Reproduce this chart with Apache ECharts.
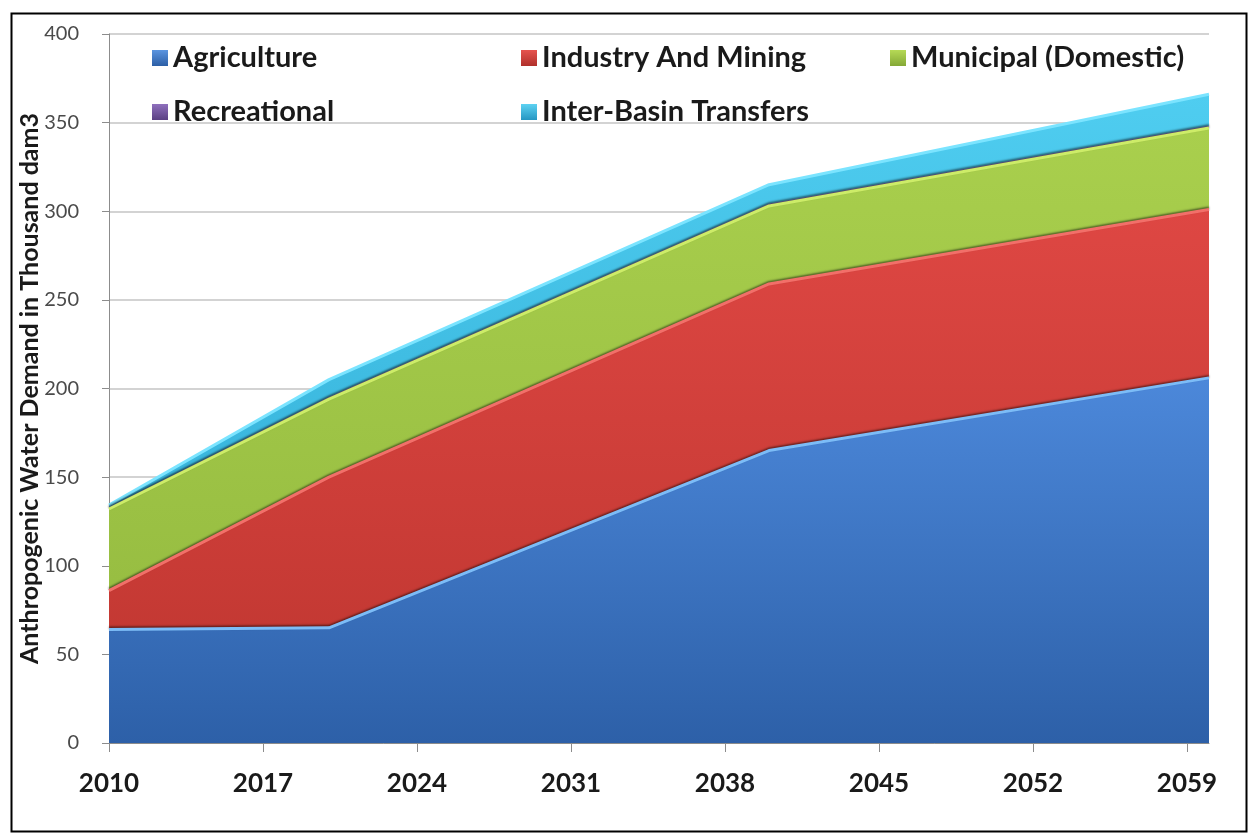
<!DOCTYPE html>
<html>
<head>
<meta charset="utf-8">
<title>Anthropogenic Water Demand</title>
<script src="https://cdn.jsdelivr.net/npm/echarts@6/dist/echarts.min.js"></script>
<style>
  html, body { margin: 0; padding: 0; background: #ffffff; }
  #chart { width: 1253px; height: 838px; }
</style>
</head>
<body>
<div id="chart"></div>
<script>
// Projection years and demand per sector (thousand dam3)
const years = [2010, 2020, 2040, 2060];
const agriculture = [64, 65, 165, 206];
const industryMining = [22, 85, 94, 95];
const municipal = [46, 44, 44, 46];
const recreational = [0.8, 1, 1, 1];
const interBasin = [1.5, 10, 11, 18];

const xTickYears = [2010, 2017, 2024, 2031, 2038, 2045, 2052, 2059];
const seriesNames = ['Agriculture', 'Industry And Mining', 'Municipal (Domestic)', 'Recreational', 'Inter-Basin Transfers'];
const yAxisTitle = 'Anthropogenic Water Demand in Thousand dam3';

const FONT = 'Lato, "Open Sans", sans-serif';

function grad(top, bottom) {
  return new echarts.graphic.LinearGradient(0, 0, 0, 1, [
    { offset: 0, color: top },
    { offset: 1, color: bottom }
  ]);
}

const styles = [
  { area: grad('#4c88da', '#2d60a8'), line: '#7cbcf7', icon: grad('#5b95e0', '#2c5fa6') },
  { area: grad('#de4743', '#bd352f'), line: '#f26f69', icon: grad('#e6534e', '#b0302b') },
  { area: grad('#a9cf4d', '#92b83e'), line: '#cdec68', icon: grad('#b6da56', '#84a836') },
  { area: grad('#7d5fab', '#5f4488'), line: '#9a7cc8', icon: grad('#8f70bd', '#5a4083') },
  { area: grad('#4fcdf0', '#2aa6d0'), line: '#7be4ff', icon: grad('#5dd2f2', '#2596c2') }
];

const values = [agriculture, industryMining, municipal, recreational, interBasin];
const lastIndex = values.length - 1;

// Running totals: each sector's area reaches from the axis up to the sum of
// itself and the sectors below it; lower sectors are painted over higher ones.
const runningTotals = values.map((_, i) =>
  years.map((_, k) => values.slice(0, i + 1).reduce((s, arr) => s + arr[k], 0))
);

const series = seriesNames.map((name, i) => ({
  name: name,
  type: 'line',
  data: years.map((y, k) => [y, runningTotals[i][k]]),
  z: 10 - i,
  symbol: 'none',
  smooth: false,
  itemStyle: { color: styles[i].icon },
  lineStyle: {
    color: styles[i].line,
    width: i === 3 ? 1 : 3,
    // dark edge where a band meets the one above it
    shadowColor: i === lastIndex ? 'rgba(0,0,0,0)' : 'rgba(0,0,0,0.5)',
    shadowBlur: 2,
    shadowOffsetY: -1.5
  },
  areaStyle: { color: styles[i].area, opacity: 1, origin: 'start' },
  emphasis: { disabled: true }
}));

const chart = echarts.init(document.getElementById('chart'), null, { renderer: 'canvas' });
chart.setOption({
  animation: false,
  backgroundColor: '#ffffff',
  grid: { left: 109, right: 44, top: 34, bottom: 95, containLabel: false },
  legend: {
    data: seriesNames,
    left: 147,
    top: 30,
    width: 1100,
    orient: 'horizontal',
    itemWidth: 16,
    itemHeight: 16,
    itemGap: 8,
    icon: 'rect',
    selectedMode: false,
    textStyle: {
      fontFamily: FONT, fontWeight: 'bold', fontSize: 29, color: '#1a1a1a',
      width: 340, lineHeight: 46
    }
  },
  xAxis: {
    type: 'value',
    min: 2010,
    max: 2060,
    axisLine: { show: true, lineStyle: { color: '#8c8c8c', width: 1 } },
    axisTick: { show: true, length: 9, lineStyle: { color: '#8c8c8c' }, customValues: xTickYears },
    axisLabel: {
      customValues: xTickYears,
      margin: 28,
      fontFamily: FONT,
      fontWeight: 'bold',
      fontSize: 26,
      color: '#1a1a1a',
      formatter: v => String(v)
    },
    splitLine: { show: false }
  },
  yAxis: {
    type: 'value',
    min: 0,
    max: 400,
    interval: 50,
    name: yAxisTitle,
    nameLocation: 'middle',
    nameGap: 67,
    nameMoveOverlap: false,
    nameRotate: 90,
    nameTextStyle: { fontFamily: FONT, fontWeight: 'bold', fontSize: 25, color: '#1a1a1a' },
    axisLine: { show: true, lineStyle: { color: '#8c8c8c', width: 1 } },
    axisTick: { show: true, length: 7, lineStyle: { color: '#8c8c8c' } },
    axisLabel: { margin: 30, fontFamily: FONT, fontSize: 20, color: '#4a4a4a' },
    splitLine: { show: true, lineStyle: { color: '#c4c4c4', width: 1.5 } }
  },
  series: series,
  graphic: [{
    type: 'rect',
    left: 9,
    top: 11,
    shape: { x: 0, y: 0, width: 1235, height: 818 },
    style: { fill: 'none', stroke: '#000000', lineWidth: 2 },
    z: 100
  }]
});
</script>
</body>
</html>
